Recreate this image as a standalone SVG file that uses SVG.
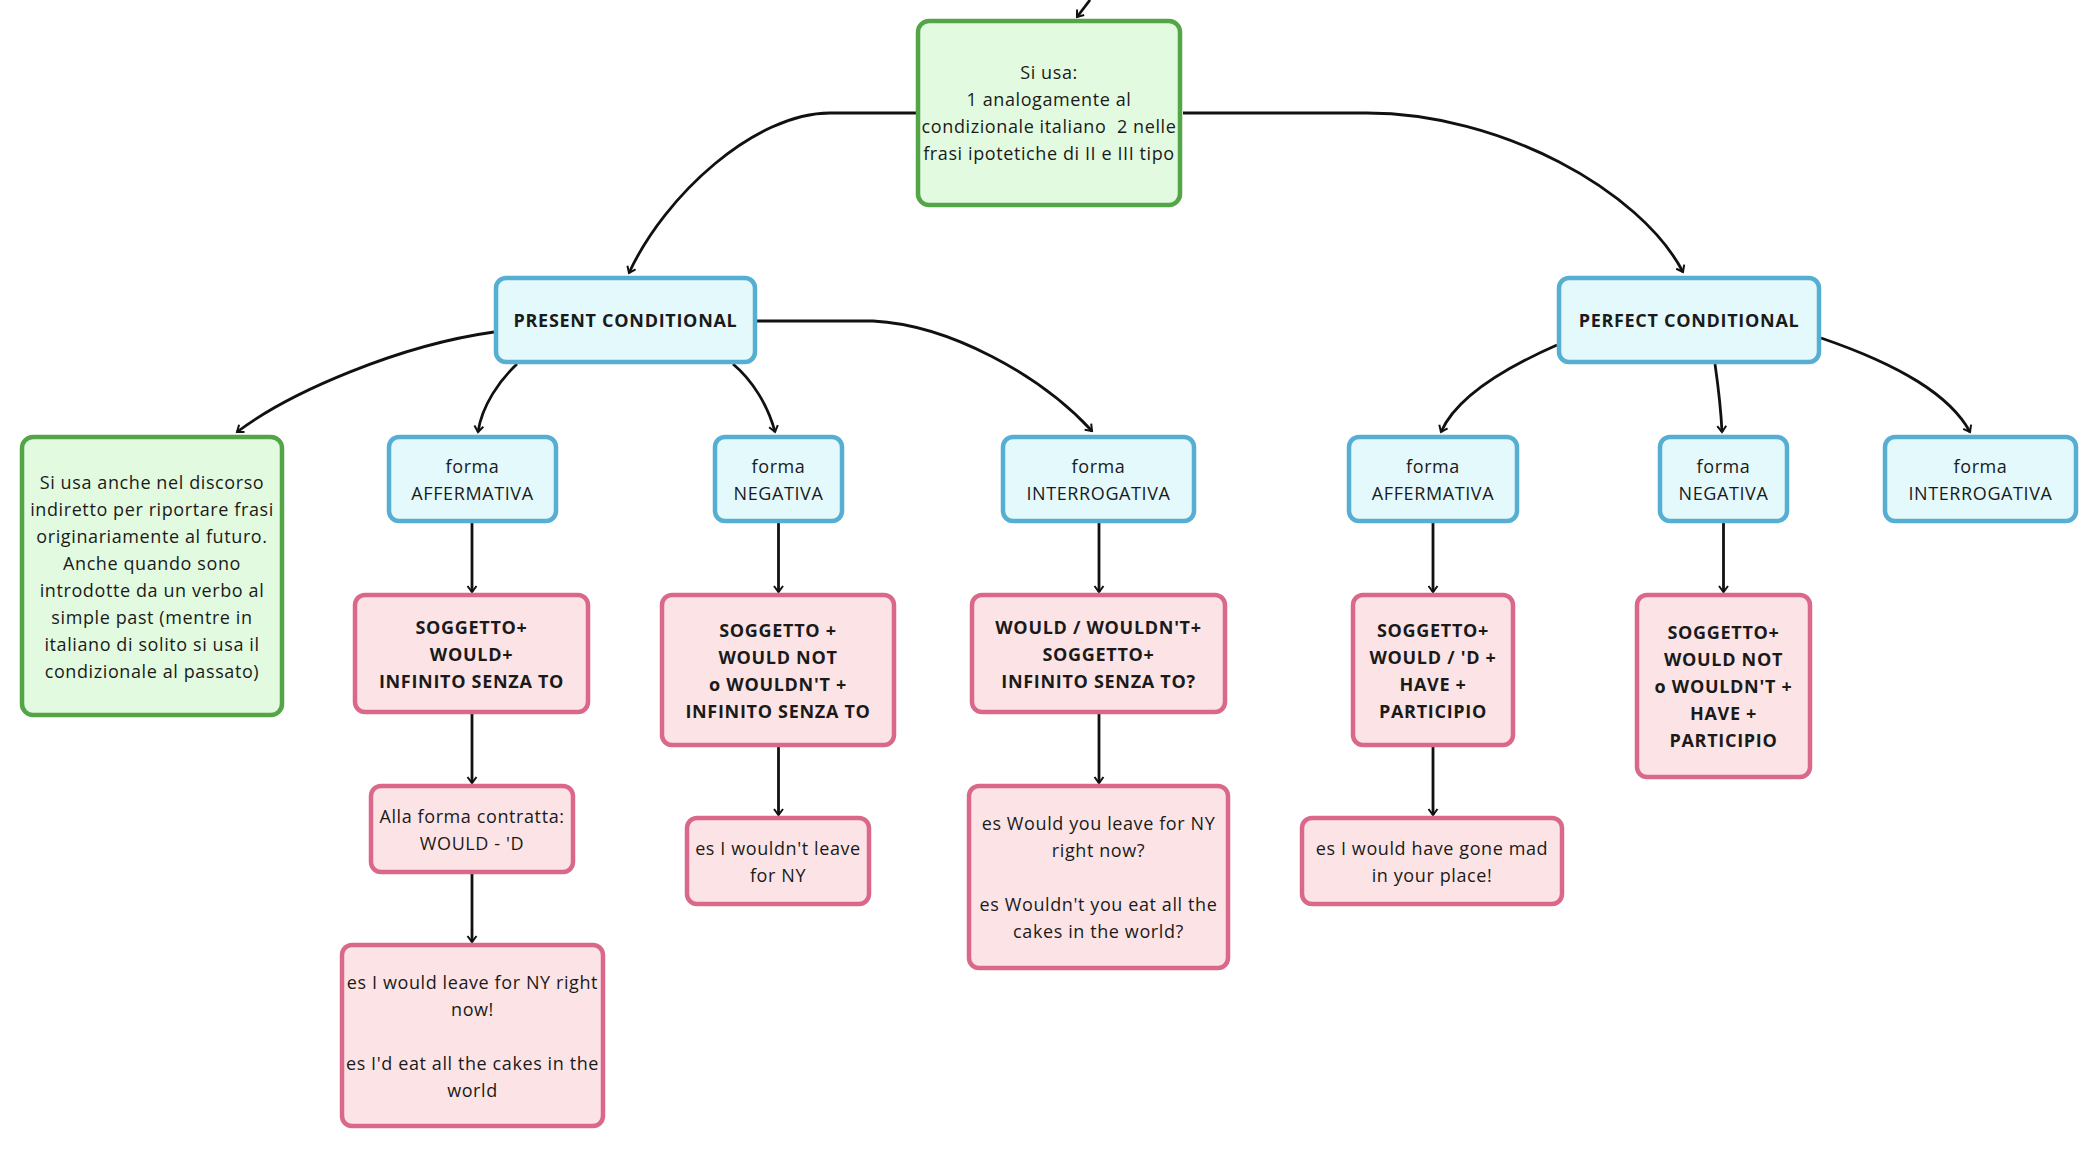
<svg xmlns="http://www.w3.org/2000/svg" width="2098" height="1150" viewBox="0 0 2098 1150">
<style>
.b{fill:#e4f9fc;stroke:#56aed3;stroke-width:4.5}
.g{fill:#e2fbe0;stroke:#53a547;stroke-width:4.5}
.p{fill:#fce4e6;stroke:#d9688a;stroke-width:4.5}
text{font-family:"Open Sans","Noto Sans",sans-serif;font-size:18px;letter-spacing:0.6px;fill:#1a1a1a;text-anchor:middle;dominant-baseline:central}
.bd{font-weight:700;font-size:18px;letter-spacing:0.7px}
.c path{fill:none;stroke:#111;stroke-width:2.8}
</style>
<defs>
<marker id="ah" markerWidth="10" markerHeight="12" refX="8" refY="6" orient="auto" markerUnits="userSpaceOnUse">
<path d="M2,1.5 L8,6 L2,10.5" fill="none" stroke="#111" stroke-width="2"/>
</marker>
</defs>
<rect width="2098" height="1150" fill="#ffffff"/>
<g class="c">
<path d="M1090,0 L1077,17" marker-end="url(#ah)"/>
<path d="M916,113 H830 C755,113 665,195 629,273" marker-end="url(#ah)"/>
<path d="M1183,113 H1367 C1500,113 1640,190 1683,272" marker-end="url(#ah)"/>
<path d="M494,332 C400,345 290,392 237,432" marker-end="url(#ah)"/>
<path d="M517,364 C500,380 482,405 478,432" marker-end="url(#ah)"/>
<path d="M733,364 C752,380 768,405 775,432" marker-end="url(#ah)"/>
<path d="M757,321 H873 C950,325 1040,375 1092,431" marker-end="url(#ah)"/>
<path d="M1557,345 C1500,370 1455,400 1441,432" marker-end="url(#ah)"/>
<path d="M1715,364 C1718,385 1721,410 1722,432" marker-end="url(#ah)"/>
<path d="M1821,338 C1900,365 1950,395 1970,432" marker-end="url(#ah)"/>
<path d="M472,523 V592" marker-end="url(#ah)"/>
<path d="M472,714 V783" marker-end="url(#ah)"/>
<path d="M472,874 V942" marker-end="url(#ah)"/>
<path d="M778.5,523 V592" marker-end="url(#ah)"/>
<path d="M778.5,747 V815" marker-end="url(#ah)"/>
<path d="M1099,523 V592" marker-end="url(#ah)"/>
<path d="M1099,714 V783" marker-end="url(#ah)"/>
<path d="M1433,523 V592" marker-end="url(#ah)"/>
<path d="M1433,747 V815" marker-end="url(#ah)"/>
<path d="M1723.5,523 V592" marker-end="url(#ah)"/>
</g>
<g id="n-top">
<rect class="g" x="918" y="21" width="262" height="184" rx="11"/>
<text x="1049"><tspan x="1049" y="72">Si usa:</tspan><tspan x="1049" y="99">1 analogamente al</tspan><tspan x="1049" y="126">condizionale italiano&#160; 2 nelle</tspan><tspan x="1049" y="153">frasi ipotetiche di II e III tipo</tspan></text>
</g>
<g id="n-present">
<rect class="b" x="496" y="278" width="259" height="84" rx="10"/>
<text class="bd" x="625.5" y="320">PRESENT CONDITIONAL</text>
</g>
<g id="n-perfect">
<rect class="b" x="1559" y="278" width="260" height="84" rx="10"/>
<text class="bd" x="1689" y="320">PERFECT CONDITIONAL</text>
</g>
<g id="n-discorso">
<rect class="g" x="22" y="437" width="260" height="278" rx="11"/>
<text x="152"><tspan x="152" y="481.5">Si usa anche nel discorso</tspan><tspan x="152" y="508.5">indiretto per riportare frasi</tspan><tspan x="152" y="535.5">originariamente al futuro.</tspan><tspan x="152" y="562.5">Anche quando sono</tspan><tspan x="152" y="589.5">introdotte da un verbo al</tspan><tspan x="152" y="616.5">simple past (mentre in</tspan><tspan x="152" y="643.5">italiano di solito si usa il</tspan><tspan x="152" y="670.5">condizionale al passato)</tspan></text>
</g>
<g id="n-aff1">
<rect class="b" x="389" y="437" width="167" height="84" rx="10"/>
<text x="472.5"><tspan x="472.5" y="465.5">forma</tspan><tspan x="472.5" y="492.5">AFFERMATIVA</tspan></text>
</g>
<g id="n-neg1">
<rect class="b" x="715" y="437" width="127" height="84" rx="10"/>
<text x="778.5"><tspan x="778.5" y="465.5">forma</tspan><tspan x="778.5" y="492.5">NEGATIVA</tspan></text>
</g>
<g id="n-int1">
<rect class="b" x="1003" y="437" width="191" height="84" rx="10"/>
<text x="1098.5"><tspan x="1098.5" y="465.5">forma</tspan><tspan x="1098.5" y="492.5">INTERROGATIVA</tspan></text>
</g>
<g id="n-aff2">
<rect class="b" x="1349" y="437" width="168" height="84" rx="10"/>
<text x="1433"><tspan x="1433" y="465.5">forma</tspan><tspan x="1433" y="492.5">AFFERMATIVA</tspan></text>
</g>
<g id="n-neg2">
<rect class="b" x="1660" y="437" width="127" height="84" rx="10"/>
<text x="1723.5"><tspan x="1723.5" y="465.5">forma</tspan><tspan x="1723.5" y="492.5">NEGATIVA</tspan></text>
</g>
<g id="n-int2">
<rect class="b" x="1885" y="437" width="191" height="84" rx="10"/>
<text x="1980.5"><tspan x="1980.5" y="465.5">forma</tspan><tspan x="1980.5" y="492.5">INTERROGATIVA</tspan></text>
</g>
<g id="n-p1">
<rect class="p" x="355" y="595" width="233" height="117" rx="10"/>
<text class="bd" x="471.5"><tspan x="471.5" y="626.5">SOGGETTO+</tspan><tspan x="471.5" y="653.5">WOULD+</tspan><tspan x="471.5" y="680.5">INFINITO SENZA TO</tspan></text>
</g>
<g id="n-p2">
<rect class="p" x="662" y="595" width="232" height="150" rx="10"/>
<text class="bd" x="778"><tspan x="778" y="629.5">SOGGETTO +</tspan><tspan x="778" y="656.5">WOULD NOT</tspan><tspan x="778" y="683.5">o WOULDN'T +</tspan><tspan x="778" y="710.5">INFINITO SENZA TO</tspan></text>
</g>
<g id="n-p3">
<rect class="p" x="972" y="595" width="253" height="117" rx="10"/>
<text class="bd" x="1098.5"><tspan x="1098.5" y="626.5">WOULD / WOULDN'T+</tspan><tspan x="1098.5" y="653.5">SOGGETTO+</tspan><tspan x="1098.5" y="680.5">INFINITO SENZA TO?</tspan></text>
</g>
<g id="n-p4">
<rect class="p" x="1353" y="595" width="160" height="150" rx="10"/>
<text class="bd" x="1433"><tspan x="1433" y="629.5">SOGGETTO+</tspan><tspan x="1433" y="656.5">WOULD / 'D +</tspan><tspan x="1433" y="683.5">HAVE +</tspan><tspan x="1433" y="710.5">PARTICIPIO</tspan></text>
</g>
<g id="n-p5">
<rect class="p" x="1637" y="595" width="173" height="182" rx="10"/>
<text class="bd" x="1723.5"><tspan x="1723.5" y="632">SOGGETTO+</tspan><tspan x="1723.5" y="659">WOULD NOT</tspan><tspan x="1723.5" y="686">o WOULDN'T +</tspan><tspan x="1723.5" y="713">HAVE +</tspan><tspan x="1723.5" y="740">PARTICIPIO</tspan></text>
</g>
<g id="n-alla">
<rect class="p" x="371" y="786" width="202" height="86" rx="10"/>
<text x="472"><tspan x="472" y="815.5">Alla forma contratta:</tspan><tspan x="472" y="842.5">WOULD - 'D</tspan></text>
</g>
<g id="n-ex1">
<rect class="p" x="342" y="945" width="261" height="181" rx="10"/>
<text x="472.5"><tspan x="472.5" y="981.5">es I would leave for NY right</tspan><tspan x="472.5" y="1008.5">now!</tspan><tspan x="472.5" y="1062.5">es I'd eat all the cakes in the</tspan><tspan x="472.5" y="1089.5">world</tspan></text>
</g>
<g id="n-ex2">
<rect class="p" x="687" y="818" width="182" height="86" rx="10"/>
<text x="778"><tspan x="778" y="847.5">es I wouldn't leave</tspan><tspan x="778" y="874.5">for NY</tspan></text>
</g>
<g id="n-ex3">
<rect class="p" x="969" y="786" width="259" height="182" rx="10"/>
<text x="1098.5"><tspan x="1098.5" y="823">es Would you leave for NY</tspan><tspan x="1098.5" y="850">right now?</tspan><tspan x="1098.5" y="904">es Wouldn't you eat all the</tspan><tspan x="1098.5" y="931">cakes in the world?</tspan></text>
</g>
<g id="n-ex4">
<rect class="p" x="1302" y="818" width="260" height="86" rx="10"/>
<text x="1432"><tspan x="1432" y="847.5">es I would have gone mad</tspan><tspan x="1432" y="874.5">in your place!</tspan></text>
</g>
</svg>
